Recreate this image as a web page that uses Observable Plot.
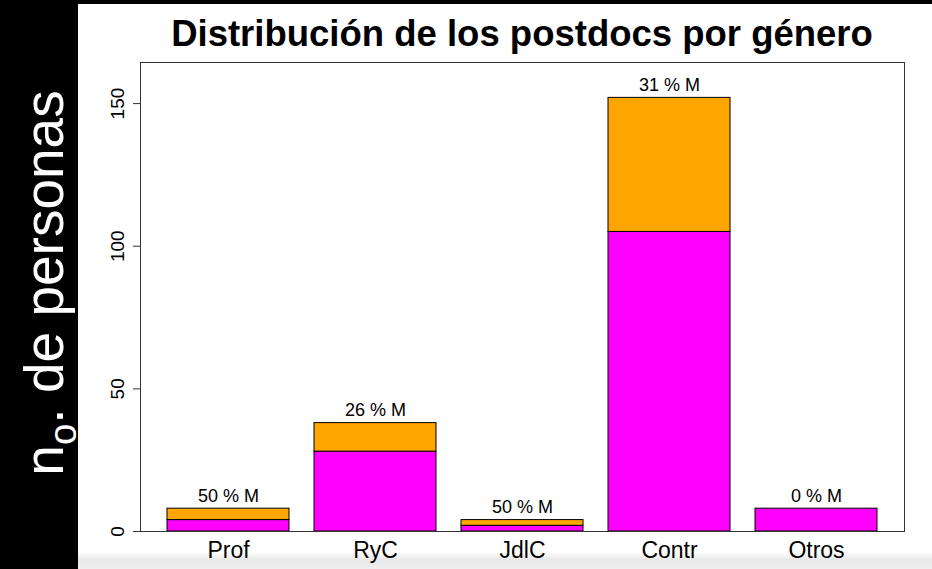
<!DOCTYPE html>
<html>
<head>
<meta charset="utf-8">
<script src="https://cdn.jsdelivr.net/npm/d3@7"></script>
<script src="https://cdn.jsdelivr.net/npm/@observablehq/plot@0.6"></script>
<style>
  html, body { margin: 0; padding: 0; background: #fff; }
  #wrap { position: relative; width: 932px; height: 569px; overflow: hidden; font-family: "Liberation Sans", Arial, Helvetica, sans-serif; }
  #band { position: absolute; left: 0; top: 0; width: 78px; height: 569px; background: #000; z-index: 2; }
  #topstrip { position: absolute; left: 0; top: 0; width: 932px; height: 4px; background: #000; z-index: 2; }
  #bottomshade { position: absolute; left: 78px; top: 552px; width: 854px; height: 17px; background: linear-gradient(to bottom, #ffffff, #e8e8e8 45%, #efefef); z-index: 0; }
  #ylab { position: absolute; left: 50px; top: 283px; transform: translate(-50%, -50%) rotate(-90deg); color: #fff; font-size: 55px; white-space: nowrap; line-height: 1; z-index: 3; }
  #ylab sub { font-size: 0.7em; vertical-align: -0.35em; }
  #title { position: absolute; left: 140px; width: 764px; top: 13px; text-align: center; font-weight: bold; font-size: 36.5px; line-height: 42px; color: #000; white-space: nowrap; z-index: 3; }
  #chart { position: absolute; left: 0; top: 0; z-index: 1; }
</style>
</head>
<body>
<div id="wrap">
  <div id="bottomshade"></div>
  <div id="chart"></div>
  <div id="band"></div>
  <div id="topstrip"></div>
  <div id="ylab">n<sub>o</sub>. de personas</div>
  <div id="title">Distribución de los postdocs por género</div>
</div>
<script>
const categories = ["Prof", "RyC", "JdlC", "Contr", "Otros"];
const hombres = [4, 28, 2, 105, 8];   // magenta (bottom)
const mujeres = [4, 10, 2, 47, 0];    // orange (top)
const yTicks = [0, 50, 100, 150];

const rows = [];
categories.forEach((c, i) => {
  rows.push({cat: c, grupo: "H", n: hombres[i]});
  rows.push({cat: c, grupo: "M", n: mujeres[i]});
});
const totals = categories.map((c, i) => ({
  cat: c,
  total: hombres[i] + mujeres[i],
  label: Math.round(100 * mujeres[i] / (hombres[i] + mujeres[i])) + " % M"
}));

const chart = Plot.plot({
  width: 932,
  height: 569,
  marginLeft: 140,
  marginRight: 28,
  marginTop: 62,
  marginBottom: 38,
  style: {fontFamily: "Liberation Sans, Arial, sans-serif", background: "transparent", overflow: "visible"},
  x: {domain: categories, paddingInner: 0.17, paddingOuter: 0.1836, label: null},
  y: {domain: [0, 164.4], label: null},
  color: {domain: ["H", "M"], range: ["#ff00ff", "#ffa500"]},
  marks: [
    Plot.barY(rows, Plot.stackY({x: "cat", y: "n", fill: "grupo", order: ["H", "M"], stroke: "#000", strokeWidth: 1})),
    Plot.text(totals, {x: "cat", y: "total", text: "label", lineAnchor: "bottom", dy: -7, fontSize: 18, fill: "#000"}),
    Plot.frame({stroke: "#333", strokeWidth: 1}),
    Plot.axisY({ticks: yTicks, tickSize: 7, tickPadding: 10, tickRotate: -90, fontSize: 19, stroke: "#333", fill: "#000", label: null}),
    Plot.axisX({tickSize: 0, tickPadding: 10, fontSize: 23, fill: "#000", label: null})
  ]
});
document.getElementById("chart").appendChild(chart);
</script>
</body>
</html>
